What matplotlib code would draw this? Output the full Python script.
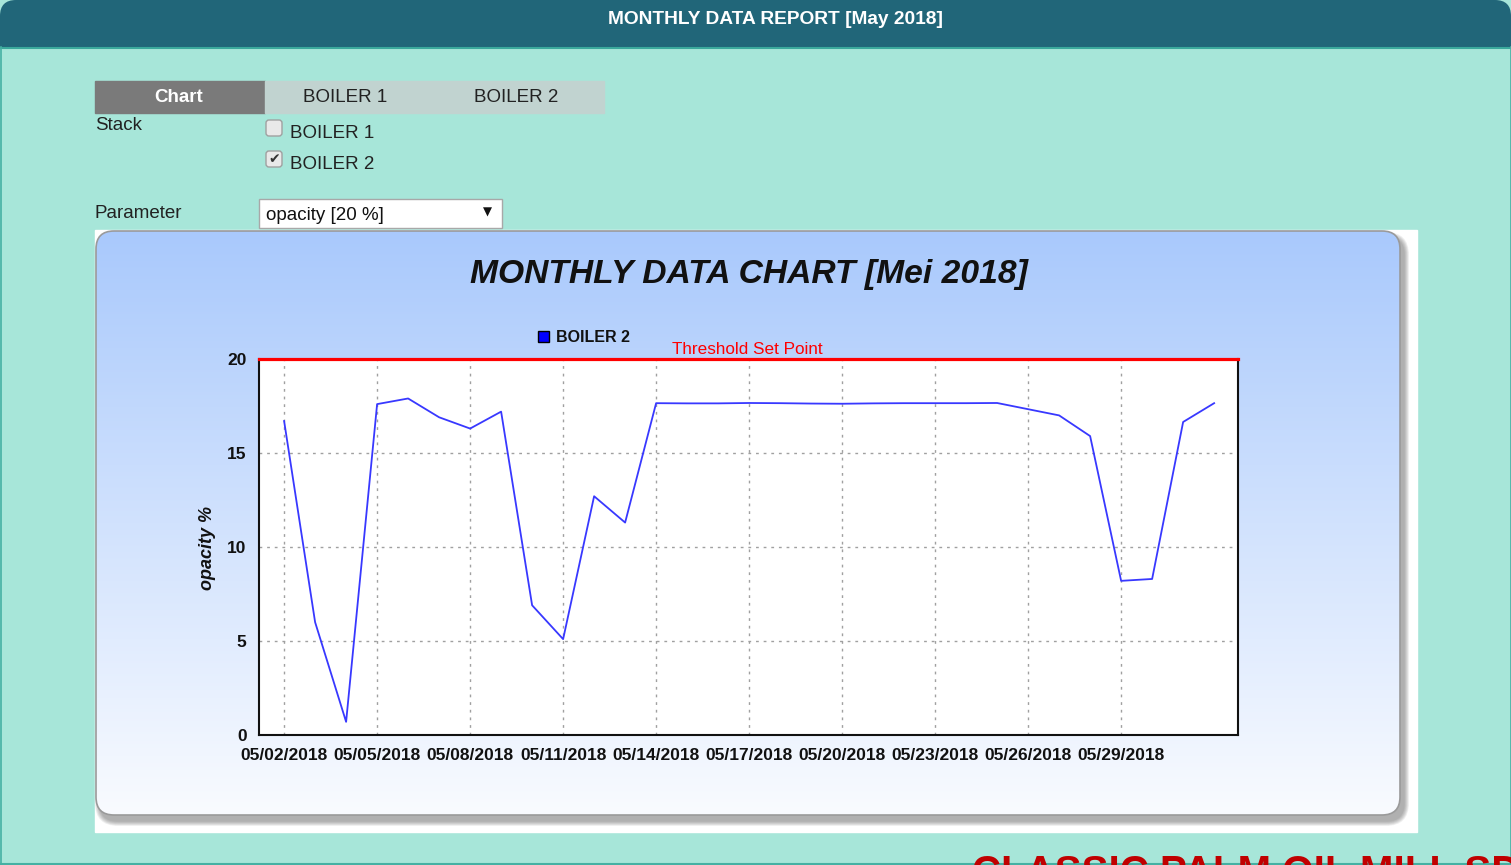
import matplotlib
matplotlib.use('Agg')
import matplotlib.pyplot as plt
import matplotlib.transforms as mtransforms
from matplotlib.patches import FancyBboxPatch, Rectangle
from matplotlib import font_manager
import numpy as np

# data
days = list(range(2, 33))
opacity = [16.7, 6.0, 0.7, 17.6, 17.9, 16.9, 16.3, 17.2, 6.9, 5.1, 12.7, 11.3,
           17.65, 17.64, 17.64, 17.66, 17.65, 17.63, 17.62, 17.64, 17.65, 17.65,
           17.65, 17.66, 17.33, 17.0, 15.9, 8.2, 8.3, 16.65, 17.65]
tick_days = [2, 5, 8, 11, 14, 17, 20, 23, 26, 29]
tick_labels = ['05/02/2018', '05/05/2018', '05/08/2018', '05/11/2018', '05/14/2018',
               '05/17/2018', '05/20/2018', '05/23/2018', '05/26/2018', '05/29/2018']
y_ticks = [0, 5, 10, 15, 20]
threshold = 20

W, H = 1511, 865
SANS = 'Liberation Sans'
names = {f.name for f in font_manager.fontManager.ttflist}
NARROW = 'Liberation Sans Narrow' if 'Liberation Sans Narrow' in names else SANS
plt.rcParams['font.family'] = [SANS, 'DejaVu Sans']

fig = plt.figure(figsize=(W / 100, H / 100), dpi=100)
page = fig.add_axes([0, 0, 1, 1])
page.set_xlim(0, W)
page.set_ylim(H, 0)
page.axis('off')

MINT = '#a7e6d9'
page.add_patch(Rectangle((0, 0), W, H, color=MINT, zorder=0))

# header bar
page.add_patch(FancyBboxPatch((0, 0), W, 80, boxstyle='round,pad=0,rounding_size=16',
                              fc='#216679', ec='none', zorder=1))
page.add_patch(Rectangle((0, 48), W, H - 48, color=MINT, zorder=1))
page.plot([0, W], [47.5, 47.5], color='#3aa99c', lw=1.5, zorder=2)
page.plot([0.5, 0.5], [47, H], color='#45b0a3', lw=1.2, zorder=2)
page.plot([W - 0.5, W - 0.5], [47, H], color='#45b0a3', lw=1.2, zorder=2)
page.plot([0, W], [H - 1, H - 1], color='#45b0a3', lw=1.5, zorder=2)
hsize = 15.5 if NARROW != SANS else 13.8
page.text(776, 19, 'MONTHLY DATA REPORT [May 2018]', color='white', fontweight='bold',
          family=NARROW, fontsize=hsize, ha='center', va='center', zorder=3)

# tabs
page.add_patch(Rectangle((95, 81), 170, 32, color='#7a7a7a', zorder=2))
page.add_patch(Rectangle((265, 81), 339, 32, color='#c1d3d0', zorder=2))
page.text(179, 97, 'Chart', color='white', fontweight='bold', fontsize=13.5,
          ha='center', va='center', zorder=3)
page.text(345, 97, 'BOILER 1', color='#222222', fontsize=13.5, ha='center', va='center', zorder=3)
page.text(516, 97, 'BOILER 2', color='#222222', fontsize=13.5, ha='center', va='center', zorder=3)

# stack checkboxes
page.text(95, 125, 'Stack', color='#222222', fontsize=13.5, ha='left', va='center', zorder=3)
for yy, lab, checked in [(120, 'BOILER 1', False), (151, 'BOILER 2', True)]:
    page.add_patch(FancyBboxPatch((266, yy), 16, 16, boxstyle='round,pad=0,rounding_size=3',
                                  fc='#e9e9e9', ec='#a0a0a0', lw=1, zorder=3))
    if checked:
        page.text(274, yy + 8.5, '\u2714', color='#333333', fontsize=10, family='DejaVu Sans',
                  ha='center', va='center', zorder=4)
    page.text(290, yy + 13.5, lab, color='#222222', fontsize=13.5, ha='left', va='center', zorder=3)

# parameter dropdown
page.text(95, 213, 'Parameter', color='#222222', fontsize=13.5, ha='left', va='center', zorder=3)
page.add_patch(Rectangle((259, 199), 243, 29, fc='white', ec='#a8a8a8', lw=1, zorder=3))
page.text(266, 215, 'opacity [20 %]', color='#111111', fontsize=13.5, ha='left', va='center', zorder=4)
page.text(487, 212, '\u25bc', color='#111111', fontsize=8.5, family='DejaVu Sans',
          ha='center', va='center', zorder=4)

# chart card
page.add_patch(Rectangle((95, 230), 1322, 602, color='white', zorder=2))
for k in range(10):
    grow = 10 - k
    page.add_patch(FancyBboxPatch((96 + 4 - grow / 2, 231 + 6 - grow / 2), 1304 + grow, 584 + grow,
                                  boxstyle='round,pad=0,rounding_size=%d' % (18 + grow / 2),
                                  fc='#5a5a5a', ec='none', alpha=0.06, zorder=3))
card = FancyBboxPatch((96, 231), 1304, 584, boxstyle='round,pad=0,rounding_size=18',
                      fc='none', ec='#9a9a9a', lw=1.2, zorder=5, transform=page.transData)
top_c = np.array([0xa9, 0xc9, 0xfc]) / 255
bot_c = np.array([0xf9, 0xfb, 0xff]) / 255
t = np.linspace(0, 1, 256)[:, None]
grad = (top_c[None, :] * (1 - t) + bot_c[None, :] * t)[:, None, :]
im = page.imshow(grad, extent=(96, 1400, 815, 231), aspect='auto', origin='upper',
                 interpolation='bilinear', zorder=4)
im.set_clip_path(card)
page.add_patch(card)
page.set_xlim(0, W)
page.set_ylim(H, 0)

page.text(749, 275, 'MONTHLY DATA CHART [Mei 2018]', color='#111111', fontsize=24.2,
          fontweight='bold', fontstyle='italic', ha='center', va='center', zorder=6)

# legend
page.add_patch(Rectangle((538, 331), 11, 11, fc='#0000ff', ec='black', lw=1, zorder=6))
page.text(556, 337.5, 'BOILER 2', color='#111111', fontsize=11.5, fontweight='bold',
          ha='left', va='center', zorder=6)

page.text(208, 548, 'opacity %', color='#111111', fontsize=13, fontweight='bold',
          fontstyle='italic', rotation=90, ha='center', va='center', zorder=6)

# footer text, cut by the page edge as in the page
page.text(972, 854, 'CLASSIC PALM OIL MILL SDN BHD', color='#c00000', fontsize=29,
          fontweight='bold', ha='left', va='top', zorder=6)

# plot area
ax = fig.add_axes([259 / W, 1 - 735 / H, 979 / W, 376 / H])
ax.set_facecolor('white')
ax.plot(days, opacity, color='#3838ff', lw=1.3, zorder=3)
ax.axhline(threshold, color='#ff0000', lw=2.3, zorder=4, clip_on=False)
ax.set_xlim(1.19, 32.77)
ax.set_ylim(0, 20)
ax.set_xticks(tick_days)
ax.set_xticklabels(tick_labels)
ax.set_yticks(y_ticks)
ax.tick_params(length=0, labelsize=12.5, colors='#111111')
ax.tick_params(axis='x', pad=9)
ax.tick_params(axis='y', pad=9)
for lab in ax.get_xticklabels() + ax.get_yticklabels():
    lab.set_fontweight('bold')
ax.grid(True, color='#a0a0a0', ls=(0, (2, 3.5)), lw=1)
for side in ['left', 'bottom', 'right']:
    ax.spines[side].set_color('#111111')
    ax.spines[side].set_linewidth(1.5)
ax.spines['top'].set_visible(False)

trans = mtransforms.blended_transform_factory(ax.transAxes, ax.transData)
ax.annotate('Threshold Set Point', xy=(0.499, threshold), xycoords=trans,
            xytext=(0, 1.5), textcoords='offset points', color='#ff0000', fontsize=12.3,
            ha='center', va='bottom')

fig.savefig('out.png', dpi=100)
